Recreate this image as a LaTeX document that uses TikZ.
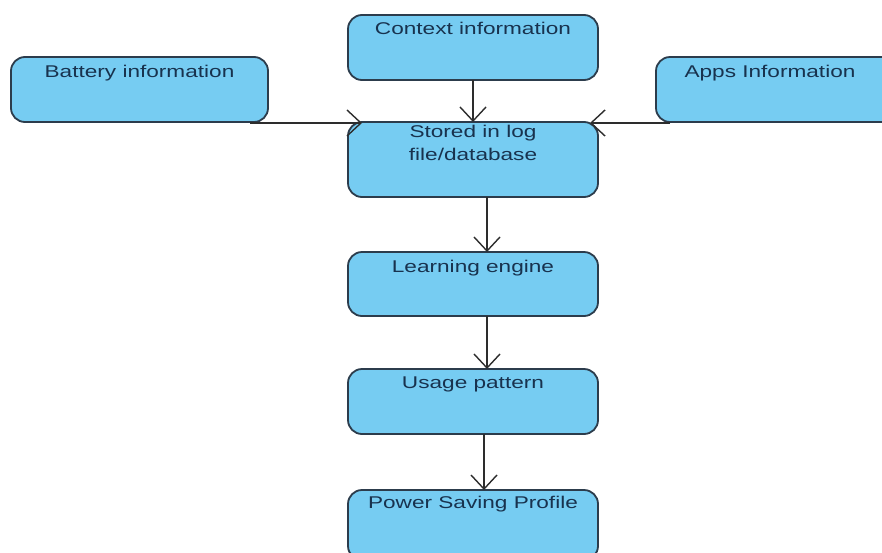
\documentclass[tikz,border=0pt]{standalone}
\usepackage{fontspec}
\setmainfont{Liberation Sans}[FakeStretch=1.33]
\usetikzlibrary{arrows.meta,calc}
\definecolor{boxfill}{RGB}{118,204,242}
\definecolor{boxline}{RGB}{44,60,76}
\definecolor{boxtext}{RGB}{24,50,78}
\definecolor{arrline}{RGB}{45,45,45}
\tikzset{
  box/.style={draw=boxline, line width=1.8pt, fill=boxfill, rounded corners=14pt,
    rectangle, inner sep=0pt, outer sep=0pt},
  boxlabel/.style={text=boxtext, anchor=base, inner sep=0pt, align=center,
    font=\fontsize{17}{23}\selectfont},
  flow/.style={draw=arrline, line width=1.4pt,
    -{Straight Barb[length=14pt, width=26pt, line width=1.4pt]}},
}
\begin{document}
\begin{tikzpicture}[x=1pt, y=1pt]
  \useasboundingbox (0,0) rectangle (882,-552);
  \fill[white] (0,0) rectangle (882,-552);
  \clip (0,0) rectangle (882,-552);

  % boxes
  \node[box, minimum width=250pt, minimum height=65pt, anchor=north] (ctx) at (473,-15) {};
  \node[box, minimum width=257pt, minimum height=65pt, anchor=north west] (bat) at (11,-57) {};
  \node[box, minimum width=240pt, minimum height=65pt, anchor=north west] (apps) at (656,-57) {};
  \node[box, minimum width=250pt, minimum height=75pt, anchor=north] (store) at (473,-122) {};
  \node[box, minimum width=250pt, minimum height=64pt, anchor=north] (learn) at (473,-252) {};
  \node[box, minimum width=250pt, minimum height=65pt, anchor=north] (usage) at (473,-369) {};
  \node[box, minimum width=250pt, minimum height=70pt, anchor=north] (power) at (473,-490) {};

  % labels along the top of each box
  \node[boxlabel] (ctxt) at ([yshift=-19pt]ctx.north) {Context information};
  \node[boxlabel] (batt) at ([yshift=-20pt]bat.north) {Battery information};
  \node[boxlabel] (appst) at ([xshift=-6pt,yshift=-20pt]apps.north) {Apps Information};
  \node[boxlabel, anchor=north] (storet) at ([yshift=-3pt]store.north) {Stored in log\\file/database};
  \node[boxlabel] (learnt) at ([yshift=-20pt]learn.north) {Learning engine};
  \node[boxlabel] (usaget) at ([yshift=-19pt]usage.north) {Usage pattern};
  \node[boxlabel] (powert) at ([yshift=-18pt]power.north) {Power Saving Profile};

  % free ends of the side connectors, level with the bottom of the side boxes
  \coordinate (batend) at ([xshift=-18pt,yshift=-1pt]bat.south east);
  \coordinate (appsend) at ([xshift=14pt,yshift=-1pt]apps.south west);

  % connectors
  \draw[flow] (ctx.south) -- (store.north);
  \draw[flow] (batend) -- ([xshift=14pt]store.north west |- batend);
  \draw[flow] (appsend) -- ([xshift=-8pt]store.north east |- appsend);
  \draw[flow] ([xshift=14pt]store.south) -- ([xshift=14pt]learn.north);
  \draw[flow] ([xshift=14pt]learn.south) -- ([xshift=14pt]usage.north);
  \draw[flow] ([xshift=11pt]usage.south) -- ([xshift=11pt]power.north);
\end{tikzpicture}
\end{document}
